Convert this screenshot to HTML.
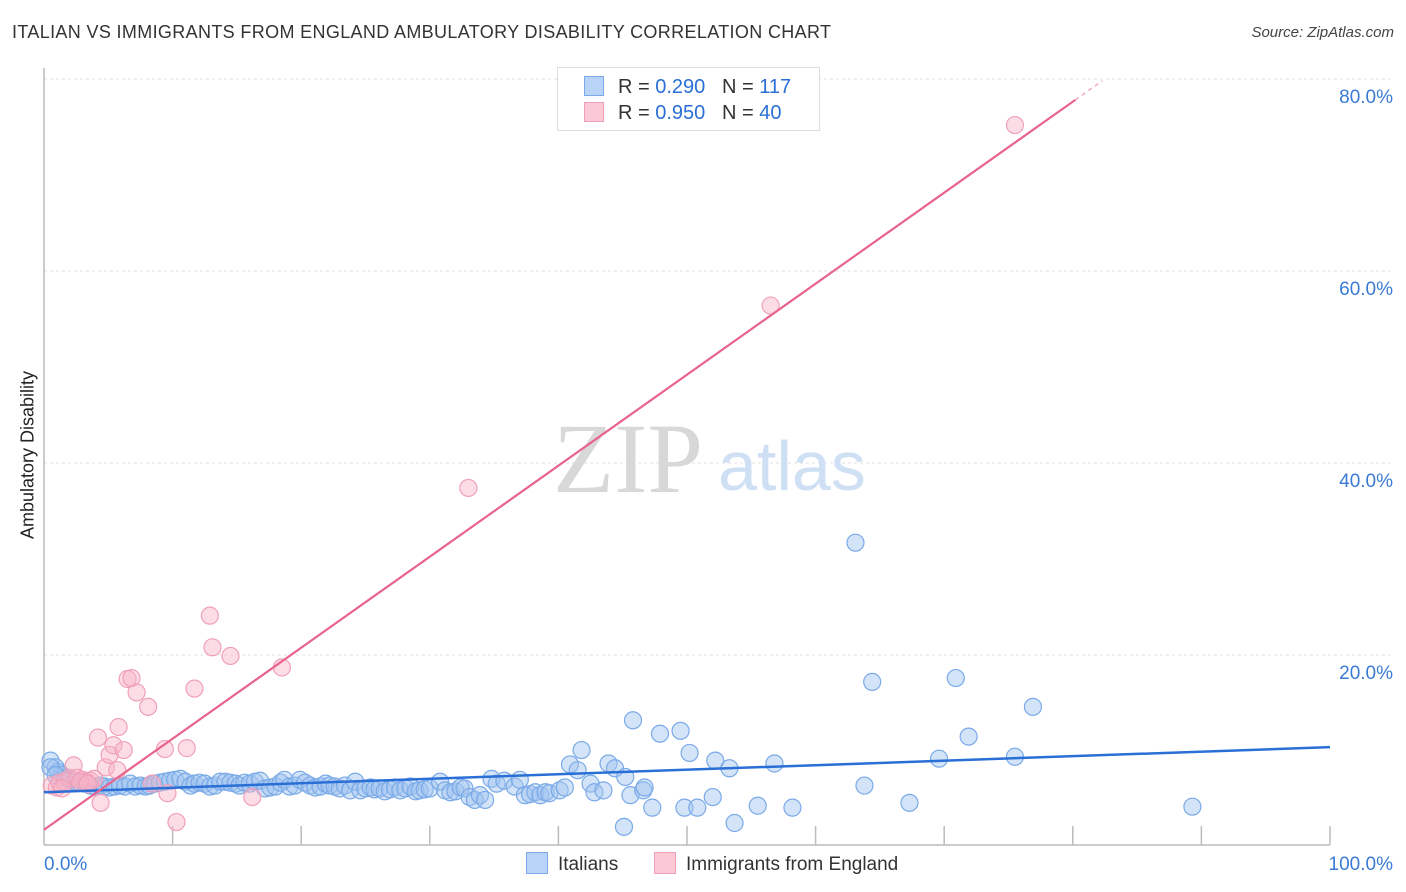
<!DOCTYPE html>
<html><head><meta charset="utf-8"><style>
body{margin:0;background:#fff;font-family:"Liberation Sans",sans-serif;}
#wrap{position:relative;width:1406px;height:892px;overflow:hidden;}
.t{position:absolute;white-space:nowrap;}
</style></head><body>
<div id="wrap">
<div class="t" style="left:12px;top:22px;font-size:18px;letter-spacing:0.35px;color:#333;">ITALIAN VS IMMIGRANTS FROM ENGLAND AMBULATORY DISABILITY CORRELATION CHART</div>
<div class="t" style="right:12px;top:24px;font-size:15px;color:#444;font-style:italic;">Source: ZipAtlas.com</div>
<div class="t" style="left:28px;top:455px;font-size:18px;color:#222;transform:translate(-50%,-50%) rotate(-90deg);">Ambulatory Disability</div>
<svg id="plot" width="1406" height="892" style="position:absolute;left:0;top:0"></svg>
<div style="position:absolute;left:557px;top:67px;width:261px;height:62px;border:1px solid #ddd;background:#fff;font-size:20px;color:#333;">
 <div style="position:absolute;left:26px;top:8px;"><span style="display:inline-block;width:18px;height:18px;background:#b8d3f5;border:1px solid #7aaae8;vertical-align:-3px;margin-right:14px"></span>R = <span style="color:#2a6fd6">0.290</span>&nbsp;&nbsp;&nbsp;N = <span style="color:#2a6fd6">117</span></div>
 <div style="position:absolute;left:26px;top:34px;"><span style="display:inline-block;width:18px;height:18px;background:#fbc8d6;border:1px solid #f0a0b8;vertical-align:-3px;margin-right:14px"></span>R = <span style="color:#2a6fd6">0.950</span>&nbsp;&nbsp;&nbsp;N = <span style="color:#2a6fd6">40</span></div>
</div>
<div class="t" style="left:526px;top:852px;font-size:19px;color:#333;"><span style="display:inline-block;width:20px;height:20px;background:#b8d3f5;border:1px solid #7aaae8;vertical-align:-4px;margin-right:10px"></span>Italians</div>
<div class="t" style="left:654px;top:852px;font-size:19px;color:#333;"><span style="display:inline-block;width:20px;height:20px;background:#fbc8d6;border:1px solid #f0a0b8;vertical-align:-4px;margin-right:10px"></span>Immigrants from England</div>
</div>
<script>
const xTickLabels=["0.0%","100.0%"];
const yTickValues=[20,40,60,80];
const yTickLabels=["20.0%","40.0%","60.0%","80.0%"];
const blueX=[0.5,0.9,1.1,1.4,1.7,2.0,2.4,2.8,3.2,3.6,4.0,4.4,4.7,5.1,5.5,5.9,6.3,6.7,7.1,7.5,7.9,8.2,8.6,9.0,9.4,9.8,10.2,10.6,11.0,11.4,11.7,12.1,12.5,12.9,13.3,13.7,14.1,14.5,14.9,15.2,15.6,16.0,16.4,16.8,17.2,17.6,18.0,18.4,18.7,19.1,19.5,19.9,20.3,20.7,21.1,21.5,21.9,22.2,22.6,23.0,23.4,23.8,24.2,24.6,25.0,25.4,25.7,26.1,26.5,26.9,27.3,27.7,28.1,28.5,28.9,29.2,29.6,30.0,30.8,31.2,31.6,32.0,32.4,32.7,33.1,33.5,33.9,34.3,34.8,35.2,35.8,36.6,37.0,37.4,37.8,38.2,38.6,39.0,39.3,40.1,40.5,40.9,41.5,41.8,42.5,42.8,43.5,43.9,44.4,45.2,45.6,46.6,46.7,47.3,45.8,47.9,49.5,50.2,49.8,50.8,52.0,52.2,53.3,53.7,55.5,56.8,58.2,63.1,63.8,64.4,67.3,69.6,70.9,71.9,75.5,76.9,89.3,45.1,0.5,0.9];
const blueY=[9.0,8.3,7.8,7.5,7.2,7.0,6.8,6.7,6.6,6.4,6.3,6.4,6.3,6.2,6.3,6.4,6.3,6.6,6.3,6.4,6.3,6.4,6.6,6.7,6.8,6.9,7.0,7.1,6.8,6.4,6.6,6.7,6.6,6.3,6.4,6.8,6.8,6.7,6.6,6.4,6.7,6.6,6.8,6.9,6.1,6.2,6.3,6.7,7.0,6.3,6.4,7.0,6.7,6.4,6.2,6.3,6.6,6.4,6.3,6.1,6.4,5.9,6.8,5.9,6.1,6.2,6.0,6.1,5.8,6.0,6.2,5.9,6.1,6.3,5.8,5.9,6.0,6.1,6.8,5.9,5.7,5.8,6.2,6.1,5.2,4.9,5.4,4.9,7.1,6.6,6.9,6.3,7.0,5.4,5.5,5.7,5.4,5.7,5.6,5.9,6.2,8.6,8.0,10.1,6.6,5.7,5.9,8.7,8.2,7.3,5.4,5.9,6.2,4.1,13.2,11.8,12.1,9.8,4.1,4.1,5.2,9.0,8.2,2.5,4.3,8.7,4.1,31.7,6.4,17.2,4.6,9.2,17.6,11.5,9.4,14.6,4.2,2.1,8.3,7.5];
const pinkX=[0.6,1.0,1.2,1.6,2.0,2.3,2.6,3.0,3.3,3.6,3.9,4.2,4.4,4.8,5.1,5.4,5.7,5.8,6.2,6.5,6.8,7.2,8.1,8.4,9.4,9.6,10.3,11.1,11.7,12.9,13.1,14.5,16.2,18.5,33.0,56.5,75.5,2.8,1.4,3.4];
const pinkY=[6.4,6.2,6.7,6.8,7.2,8.5,7.2,7.0,6.8,6.9,7.1,11.4,4.6,8.3,9.6,10.6,8.0,12.5,10.1,17.5,17.6,16.1,14.6,6.6,10.2,5.6,2.6,10.3,16.5,24.1,20.8,19.9,5.2,18.7,37.4,56.4,75.2,6.8,6.1,6.6];
const blueTrend=[5.7,10.4];
const pinkTrend=[1.8,96.6];

const NS="http://www.w3.org/2000/svg";
const svg=document.getElementById('plot');
const X0=44,X1=1330,Y0=847,PXY=9.6;
const sx=v=>X0+(X1-X0)*v/100;
const sy=v=>Y0-v*PXY;
function mk(tag,a){const e=document.createElementNS(NS,tag);for(const k in a)e.setAttribute(k,a[k]);svg.appendChild(e);return e;}
yTickValues.forEach((v,i)=>{
 const g=mk('line',{x1:X0,x2:1392,y1:sy(v),y2:sy(v),stroke:'#e2e2e2','stroke-dasharray':'3,3'});
 
 
 const t=mk('text',{x:1393,y:sy(v)+24,'text-anchor':'end','font-size':19,fill:'#3a7bd5','font-family':'Liberation Sans, sans-serif'});
 t.textContent=yTickLabels[i];
 
 
});
const w1=mk('text',{x:553,y:492,'font-size':100,fill:'#d8d8d8','font-family':'Liberation Serif, serif'});w1.textContent='ZIP';


const w2=mk('text',{x:718,y:490,'font-size':70,fill:'#cfe0f5','font-family':'Liberation Sans, sans-serif'});w2.textContent='atlas';


const ax=mk('line',{x1:X0,x2:X1,y1:845,y2:845,stroke:'#bbb','stroke-width':1.5});


const ay=mk('line',{x1:X0,x2:X0,y1:68,y2:845,stroke:'#bbb','stroke-width':1.5});


for(let i=1;i<=10;i++){const tk=mk('line',{x1:sx(i*10),x2:sx(i*10),y1:826,y2:845,stroke:'#bbb','stroke-width':1.5});
 
 }
const xl0=mk('text',{x:44,y:870,'font-size':19,fill:'#3a7bd5','font-family':'Liberation Sans, sans-serif'});xl0.textContent=xTickLabels[0];


const xl1=mk('text',{x:1393,y:870,'text-anchor':'end','font-size':19,fill:'#3a7bd5','font-family':'Liberation Sans, sans-serif'});xl1.textContent=xTickLabels[1];


blueX.forEach((v,i)=>{const c=mk('circle',{cx:sx(v),cy:sy(blueY[i]),r:8.5,fill:'rgba(160,196,240,0.45)',stroke:'#7aaae8','stroke-width':1.2});
 
 });
pinkX.forEach((v,i)=>{const c=mk('circle',{cx:sx(v),cy:sy(pinkY[i]),r:8.5,fill:'rgba(248,180,200,0.45)',stroke:'#f0a0b8','stroke-width':1.2});
 
 });
const bt=mk('line',{x1:sx(0),y1:sy(blueTrend[0]),x2:sx(100),y2:sy(blueTrend[1]),stroke:'#2a6fd6','stroke-width':2.5});


const pf=x=>pinkTrend[0]+(pinkTrend[1]-pinkTrend[0])*x/100;
const pt=mk('line',{x1:sx(0),y1:sy(pf(0)),x2:sx(80.2),y2:sy(pf(80.2)),stroke:'#e8648c','stroke-width':2.2});


const pd=mk('line',{x1:sx(80.2),y1:sy(pf(80.2)),x2:sx(82.3),y2:sy(pf(82.3)),stroke:'#f4a8bf','stroke-width':1.5,'stroke-dasharray':'4,4'});


</script>
</body></html>
